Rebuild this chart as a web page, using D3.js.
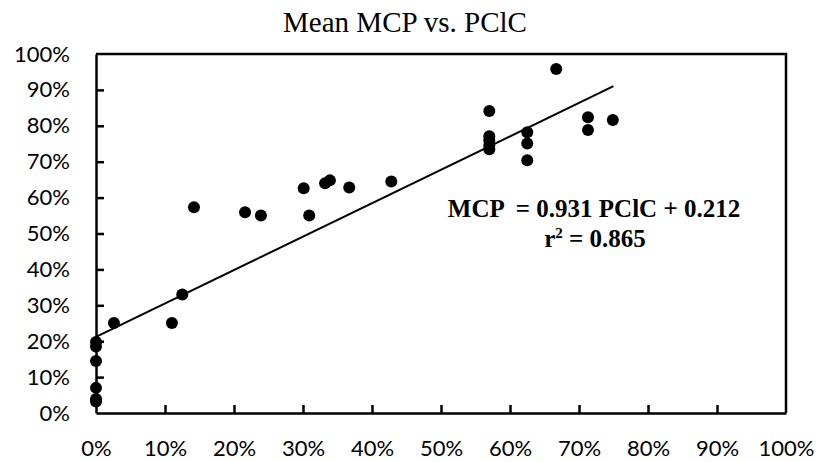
<!DOCTYPE html>
<html>
<head>
<meta charset="utf-8">
<script src="https://cdn.jsdelivr.net/npm/d3@7"></script>
<style>
  body { margin: 0; background: #fff; }
</style>
</head>
<body>
<div id="chart"></div>
<script>
// PClC (x) and mean MCP (y)
const pclc = [0, 0, 0, 0, 0, 0, 0.026, 0.11, 0.125, 0.142, 0.216, 0.239, 0.301, 0.309,
  0.332, 0.339, 0.367, 0.428, 0.57, 0.57, 0.57, 0.57, 0.57, 0.625, 0.625, 0.625,
  0.667, 0.713, 0.713, 0.749];
const mcp = [0.032, 0.039, 0.07, 0.145, 0.185, 0.198, 0.251, 0.251, 0.33, 0.573, 0.559, 0.55,
  0.626, 0.55, 0.64, 0.648, 0.628, 0.645, 0.841, 0.771, 0.76, 0.745, 0.735, 0.782, 0.751,
  0.704, 0.958, 0.824, 0.788, 0.816];

// trendline
const slope = 0.931;
const intercept = 0.212;
const fitRange = [0, 0.75];

const xTicks = [0, 0.1, 0.2, 0.3, 0.4, 0.5, 0.6, 0.7, 0.8, 0.9, 1];
const yTicks = [0, 0.1, 0.2, 0.3, 0.4, 0.5, 0.6, 0.7, 0.8, 0.9, 1];

const title = 'Mean MCP vs. PClC';
const eqLine1 = 'MCP  = 0.931 PClC + 0.212';

const W = 818, H = 462;
const margin = {left: 96, right: 32, top: 54, bottom: 49};
const width = W - margin.left - margin.right;
const height = H - margin.top - margin.bottom;

const svg = d3.select('#chart').append('svg')
    .attr('width', W)
    .attr('height', H);

const g = svg.append('g')
    .attr('transform', 'translate(' + margin.left + ',' + margin.top + ')');

const x = d3.scaleLinear().domain([0, 1]).range([0, width]);
const y = d3.scaleLinear().domain([0, 1]).range([height, 0]);

const pct = d3.format('.0%');

// ticks point into the plot
const xAxis = g.append('g')
    .attr('transform', 'translate(0,' + height + ')')
    .call(d3.axisBottom(x).tickValues(xTicks).tickFormat(pct)
      .tickSizeInner(-8).tickSizeOuter(0).tickPadding(27));

const yAxis = g.append('g')
    .call(d3.axisLeft(y).tickValues(yTicks).tickFormat(pct)
      .tickSizeInner(-8).tickSizeOuter(0).tickPadding(26));

[xAxis, yAxis].forEach(a => {
  a.select('.domain').attr('stroke', '#000').attr('stroke-width', 2.5);
  a.selectAll('.tick line').attr('stroke', '#000').attr('stroke-width', 2.5);
  a.selectAll('.tick text')
    .attr('font-family', 'Lato, sans-serif')
    .attr('font-size', '22px')
    .attr('fill', '#000');
});
xAxis.selectAll('.tick').filter(d => d === 0 || d === 1).select('line').remove();
yAxis.selectAll('.tick').filter(d => d === 0 || d === 1).select('line').remove();

// top and right frame
g.append('path')
    .attr('d', 'M0,0H' + width + 'V' + height)
    .attr('fill', 'none')
    .attr('stroke', '#000')
    .attr('stroke-width', 2.5);

// trendline
g.append('line')
    .attr('x1', x(fitRange[0]))
    .attr('y1', y(slope * fitRange[0] + intercept))
    .attr('x2', x(fitRange[1]))
    .attr('y2', y(slope * fitRange[1] + intercept))
    .attr('stroke', '#000')
    .attr('stroke-width', 2);

// points
g.selectAll('.dot')
    .data(pclc)
  .enter().append('circle')
    .attr('class', 'dot')
    .attr('cx', d => x(d))
    .attr('cy', (d, i) => y(mcp[i]))
    .attr('r', 6)
    .attr('fill', '#000');

// title
svg.append('text')
    .attr('x', 405)
    .attr('y', 32)
    .attr('text-anchor', 'middle')
    .attr('font-family', '"Liberation Serif", "Times New Roman", serif')
    .attr('font-size', '29px')
    .text(title);

// equation, two lines
const eqFont = '"Liberation Serif", "Times New Roman", serif';
svg.append('text')
    .attr('x', 594)
    .attr('y', 217)
    .attr('text-anchor', 'middle')
    .attr('font-family', eqFont)
    .attr('font-weight', 'bold')
    .attr('font-size', '25px')
    .attr('xml:space', 'preserve')
    .text(eqLine1);

const r2 = svg.append('text')
    .attr('x', 595)
    .attr('y', 247)
    .attr('text-anchor', 'middle')
    .attr('font-family', eqFont)
    .attr('font-weight', 'bold')
    .attr('font-size', '25px');
r2.append('tspan').text('r');
r2.append('tspan').text('2').attr('font-size', '15px').attr('dy', -9);
r2.append('tspan').text(' = 0.865').attr('dy', 9);
</script>
</body>
</html>
